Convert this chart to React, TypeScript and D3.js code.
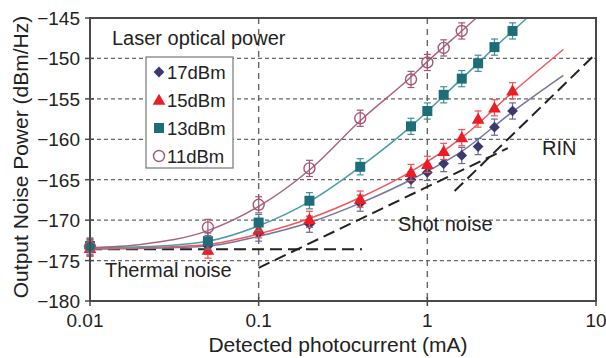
import React from 'react';
import * as d3 from 'd3';

// measured points (photocurrent mA -> noise dBm/Hz)
const i11 = [0.01, 0.05, 0.1, 0.2, 0.4, 0.8, 1.0, 1.25, 1.6];
const p11 = [-173.3, -170.9, -168.1, -163.6, -157.4, -152.6, -150.5, -148.7, -146.6];

const i13 = [0.01, 0.05, 0.1, 0.2, 0.4, 0.8, 1.0, 1.25, 1.6, 2.0, 2.5, 3.2];
const p13 = [-173.2, -172.6, -170.3, -167.6, -163.4, -158.4, -156.5, -154.5, -152.5, -150.6, -148.6, -146.6];

const i15 = [0.01, 0.05, 0.1, 0.2, 0.4, 0.8, 1.0, 1.25, 1.6, 2.0, 2.5, 3.2];
const p15 = [-173.5, -173.7, -171.2, -169.9, -167.4, -164.1, -163.1, -161.5, -159.8, -157.5, -156.1, -154.0];

const i17 = [0.01, 0.05, 0.1, 0.2, 0.4, 0.8, 1.0, 1.25, 1.6, 2.0, 2.5, 3.2];
const p17 = [-173.4, -173.2, -171.6, -170.5, -167.9, -165.0, -164.1, -163.0, -162.0, -160.9, -158.5, -156.5];

// fitted curves
const f11i = [0.01, 0.02, 0.05, 0.1, 0.2, 0.4, 0.8, 1.0, 1.6, 1.95];
const f11p = [-173.4, -173.0, -171.3, -168.3, -163.8, -157.7, -152.3, -150.4, -146.6, -145.0];
const f13i = [0.01, 0.02, 0.05, 0.1, 0.2, 0.4, 0.8, 1.6, 3.2, 3.9];
const f13p = [-173.4, -173.3, -172.6, -170.7, -167.7, -163.4, -158.4, -152.5, -146.6, -145.0];
const f15i = [0.01, 0.02, 0.05, 0.1, 0.2, 0.4, 0.8, 1.6, 3.2, 6.4];
const f15p = [-173.5, -173.4, -173.0, -171.7, -169.8, -167.2, -164.0, -159.8, -154.2, -148.9];
const f17i = [0.01, 0.02, 0.05, 0.1, 0.2, 0.4, 0.8, 1.6, 3.2, 6.4];
const f17p = [-173.6, -173.5, -173.2, -172.0, -170.3, -167.9, -165.0, -161.5, -156.6, -152.1];

// noise limit guides
const thermalI = [0.01, 0.41];
const thermalP = [-173.6, -173.6];
const shotI = [0.1, 3.0];
const shotP = [-175.9, -161.1];
const rinI = [1.45, 10];
const rinP = [-166.4, -149.4];

const errDb = 1.0;

const xTicks = [0.01, 0.1, 1, 10];
const xTickLabels = ['0.01', '0.1', '1', '10'];
const yTicks = [-145, -150, -155, -160, -165, -170, -175, -180];
const legendLabels = ['17dBm', '15dBm', '13dBm', '11dBm'];

const font = '"Liberation Sans", Arial, sans-serif';

const App = () => {
    const W = 606, H = 358;
    const left = 90, right = 596, top = 18, bottom = 301;

    const x = d3.scaleLog().domain([0.01, 10]).range([left, right]);
    const y = d3.scaleLinear().domain([-180, -145]).range([bottom, top]);

    const line = d3.line<[number, number]>()
        .x((d) => x(d[0]))
        .y((d) => y(d[1]))
        .curve(d3.curveMonotoneX);
    const straight = d3.line<[number, number]>()
        .x((d) => x(d[0]))
        .y((d) => y(d[1]));

    const zip = (a: number[], b: number[]) => a.map((v, k) => [v, b[k]] as [number, number]);

    const series = [
        { key: '17', pts: zip(i17, p17), fit: zip(f17i, f17p), mark: '#3b3a6e', lineC: '#76759e', err: '#6a6a98', shape: 'diamond' },
        { key: '15', pts: zip(i15, p15), fit: zip(f15i, f15p), mark: '#ee1c25', lineC: '#f0585a', err: '#f05050', shape: 'triangle' },
        { key: '13', pts: zip(i13, p13), fit: zip(f13i, f13p), mark: '#1d6e78', lineC: '#4a9ea2', err: '#3f8f96', shape: 'square' },
        { key: '11', pts: zip(i11, p11), fit: zip(f11i, f11p), mark: '#a55674', lineC: '#aa6480', err: '#a55674', shape: 'circle' },
    ];

    const marker = (shape: string, color: string, cx: number, cy: number, k: string) => {
        if (shape === 'circle') {
            return <circle key={k} cx={cx} cy={cy} r={5.5} fill="none" stroke={color} strokeWidth={1.4} />;
        }
        if (shape === 'diamond') {
            return <path key={k} d={d3.symbol().type(d3.symbolSquare).size(58)() || ''}
                transform={`translate(${cx},${cy}) rotate(45)`} fill={color} />;
        }
        if (shape === 'triangle') {
            return <path key={k} d={d3.symbol().type(d3.symbolTriangle).size(70)() || ''}
                transform={`translate(${cx},${cy + 1})`} fill={color} />;
        }
        return <path key={k} d={d3.symbol().type(d3.symbolSquare).size(100)() || ''}
            transform={`translate(${cx},${cy})`} fill={color} />;
    };

    const legendY = [72, 100, 128, 156];

    return (
        <svg width={W} height={H} style={{ position: 'absolute', left: 0, top: 0, background: '#fff' }}
            fontFamily={font}>
            <defs>
                <clipPath id="plot">
                    <rect x={left} y={top - 4} width={right - left + 4} height={bottom - top + 4} />
                </clipPath>
            </defs>

            {/* grid */}
            {yTicks.filter((t) => t !== -145 && t !== -180).map((t) => (
                <line key={'gy' + t} x1={left} x2={right} y1={y(t)} y2={y(t)}
                    stroke="#666" strokeWidth={1.2} strokeDasharray="4,3" />
            ))}
            {[0.1, 1].map((t) => (
                <line key={'gx' + t} x1={x(t)} x2={x(t)} y1={top} y2={bottom}
                    stroke="#666" strokeWidth={1.4} strokeDasharray="6,5" />
            ))}

            {/* guide lines */}
            <g clipPath="url(#plot)" fill="none" stroke="#222" strokeWidth={2} strokeDasharray="12,6">
                <path d={straight(zip(thermalI, thermalP)) || ''} />
                <path d={straight(zip(shotI, shotP)) || ''} />
                <path d={straight(zip(rinI, rinP)) || ''} />
            </g>

            {/* fits */}
            <g clipPath="url(#plot)" fill="none" strokeWidth={1.5}>
                {series.map((s) => (
                    <path key={'f' + s.key} d={line(s.fit) || ''} stroke={s.lineC} />
                ))}
            </g>

            {/* points with error bars */}
            {series.map((s) => (
                <g key={'s' + s.key}>
                    {s.pts.map((d, k) => {
                        const cx = x(d[0]);
                        const y1 = y(d[1] - errDb), y2 = y(d[1] + errDb);
                        return (
                            <g key={k} stroke={s.err} strokeWidth={1.2}>
                                <line x1={cx} x2={cx} y1={y1} y2={y2} />
                                <line x1={cx - 3.5} x2={cx + 3.5} y1={y1} y2={y1} />
                                <line x1={cx - 3.5} x2={cx + 3.5} y1={y2} y2={y2} />
                            </g>
                        );
                    })}
                    {s.pts.map((d, k) => marker(s.shape, s.mark, x(d[0]), y(d[1]), 'm' + k))}
                </g>
            ))}

            {/* frame */}
            <rect x={left} y={top} width={right - left} height={bottom - top} fill="none" stroke="#4a4a4a" strokeWidth={2} />

            {/* y axis ticks */}
            {yTicks.map((t) => (
                <g key={'yt' + t}>
                    <line x1={left - 5} x2={left + 4} y1={y(t)} y2={y(t)} stroke="#4a4a4a" strokeWidth={1.5} />
                    <text x={80} y={y(t) + 7} textAnchor="end" fontSize={19} fill="#222">
                        {'\u2212' + Math.abs(t)}
                    </text>
                </g>
            ))}
            {/* x axis ticks */}
            {xTicks.map((t, k) => (
                <g key={'xt' + t}>
                    <line x1={x(t)} x2={x(t)} y1={bottom - 4} y2={bottom + 5} stroke="#4a4a4a" strokeWidth={1.5} />
                    <text x={x(t) - (k === 0 ? 5 : 0)} y={327} textAnchor="middle" fontSize={19} fill="#222">
                        {xTickLabels[k]}
                    </text>
                </g>
            ))}

            {/* axis titles */}
            <text x={338} y={352} textAnchor="middle" fontSize={21} fill="#222">Detected photocurrent (mA)</text>
            <text transform={`translate(28,157) rotate(-90)`} textAnchor="middle" fontSize={21} fill="#222">
                Output Noise Power (dBm/Hz)
            </text>

            {/* annotations */}
            <text x={112} y={45} fontSize={20} fill="#222">Laser optical power</text>
            <text x={105} y={277} fontSize={20} fill="#222">Thermal noise</text>
            <text x={398} y={231} fontSize={20} fill="#222">Shot noise</text>
            <text x={542} y={155} fontSize={20} fill="#222">RIN</text>

            {/* legend */}
            <rect x={146} y={57} width={87} height={111} fill="#fff" stroke="#777" strokeWidth={1.2} />
            {series.map((s, k) => (
                <g key={'lg' + s.key}>
                    {marker(s.shape, s.mark, 159, legendY[k], 'lm' + k)}
                    <text x={167} y={legendY[k] + 6.5} fontSize={18.5} fill="#222">{legendLabels[k]}</text>
                </g>
            ))}
        </svg>
    );
};

export default App;
